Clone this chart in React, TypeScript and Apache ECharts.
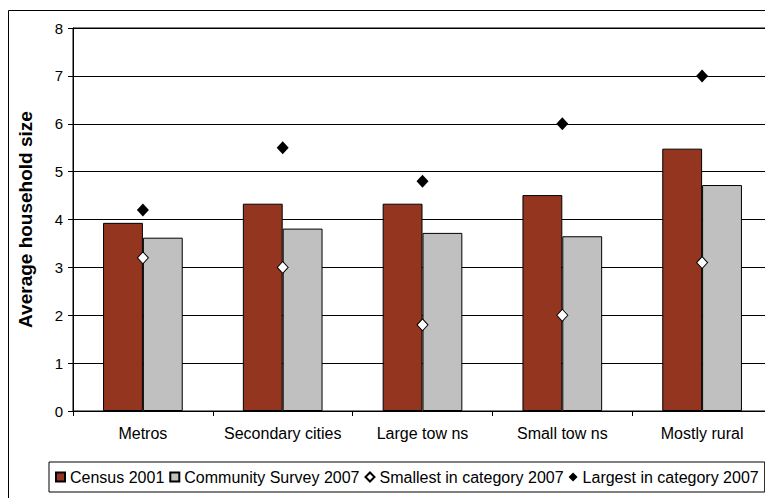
import React, { useEffect, useRef } from "react";
import * as echarts from "echarts";

const categories = ["Metros", "Secondary cities", "Large tow ns", "Small tow ns", "Mostly rural"];
const census2001 = [3.93, 4.33, 4.33, 4.51, 5.48];
const survey2007 = [3.62, 3.81, 3.72, 3.65, 4.72];
const smallest2007 = [3.2, 3.0, 1.8, 2.0, 3.1];
const largest2007 = [4.2, 5.5, 4.8, 6.0, 7.0];
const yTicks = [0, 1, 2, 3, 4, 5, 6, 7, 8];

const FONT = "Liberation Sans, Arial, sans-serif";

export default function App() {
  const ref = useRef<HTMLDivElement>(null);

  useEffect(() => {
    if (!ref.current) return;
    const chart = echarts.init(ref.current, null, { renderer: "svg" });
    chart.setOption({
      animation: false,
      backgroundColor: "#fff",
      textStyle: { fontFamily: FONT },
      graphic: [
        {
          type: "rect",
          shape: { x: 0.5, y: 2.5, width: 900, height: 700 },
          style: { fill: "none", stroke: "#000", lineWidth: 1 },
          silent: true,
          z: 10,
        },
      ],
      grid: {
        left: 64,
        top: 20,
        width: 700,
        height: 383,
        show: true,
        borderColor: "#000",
        borderWidth: 1,
        containLabel: false,
      },
      legend: {
        left: 41,
        top: 454,
        borderColor: "#000",
        borderWidth: 1,
        padding: [7, 6],
        itemGap: 5,
        itemWidth: 9,
        itemHeight: 9,
        textStyle: { fontSize: 16, color: "#000", fontFamily: FONT },
        data: [
          { name: "Census 2001", icon: "rect" },
          { name: "Community Survey 2007", icon: "rect" },
          { name: "Smallest in category 2007", icon: "diamond" },
          { name: "Largest in category 2007", icon: "diamond" },
        ],
      },
      xAxis: {
        type: "category",
        data: categories,
        boundaryGap: true,
        axisLine: { lineStyle: { color: "#000", width: 1 } },
        axisTick: { show: true, length: 5, lineStyle: { color: "#000" } },
        axisLabel: { color: "#000", fontSize: 16, margin: 14, interval: 0, fontFamily: FONT },
      },
      yAxis: {
        type: "value",
        min: yTicks[0],
        max: yTicks[yTicks.length - 1],
        interval: 1,
        name: "Average household size",
        nameLocation: "middle",
        nameGap: 38,
        nameTextStyle: { fontSize: 19, fontWeight: "bold", color: "#000", fontFamily: FONT },
        axisLine: { show: true, lineStyle: { color: "#000", width: 1 } },
        axisTick: { show: true, length: 5, lineStyle: { color: "#000" } },
        axisLabel: { color: "#000", fontSize: 15, margin: 10, fontFamily: FONT },
        splitLine: { show: true, lineStyle: { color: "#000", width: 1 } },
      },
      series: [
        {
          name: "Census 2001",
          type: "bar",
          data: census2001,
          barGap: "0%",
          barCategoryGap: "43%",
          itemStyle: { color: "#943520", borderColor: "#000", borderWidth: 1 },
        },
        {
          name: "Community Survey 2007",
          type: "bar",
          data: survey2007,
          barGap: "0%",
          barCategoryGap: "43%",
          itemStyle: { color: "#C0C0C0", borderColor: "#000", borderWidth: 1 },
        },
        {
          name: "Smallest in category 2007",
          type: "scatter",
          data: smallest2007,
          symbol: "diamond",
          symbolSize: [11, 12],
          z: 5,
          itemStyle: { color: "#fff", borderColor: "#000", borderWidth: 1, opacity: 1 },
        },
        {
          name: "Largest in category 2007",
          type: "scatter",
          data: largest2007,
          symbol: "diamond",
          symbolSize: [12, 13],
          z: 5,
          itemStyle: { color: "#000", borderColor: "#000", borderWidth: 0, opacity: 1 },
        },
      ],
    });
    return () => chart.dispose();
  }, []);

  return <div ref={ref} style={{ width: 765, height: 490 }} />;
}
